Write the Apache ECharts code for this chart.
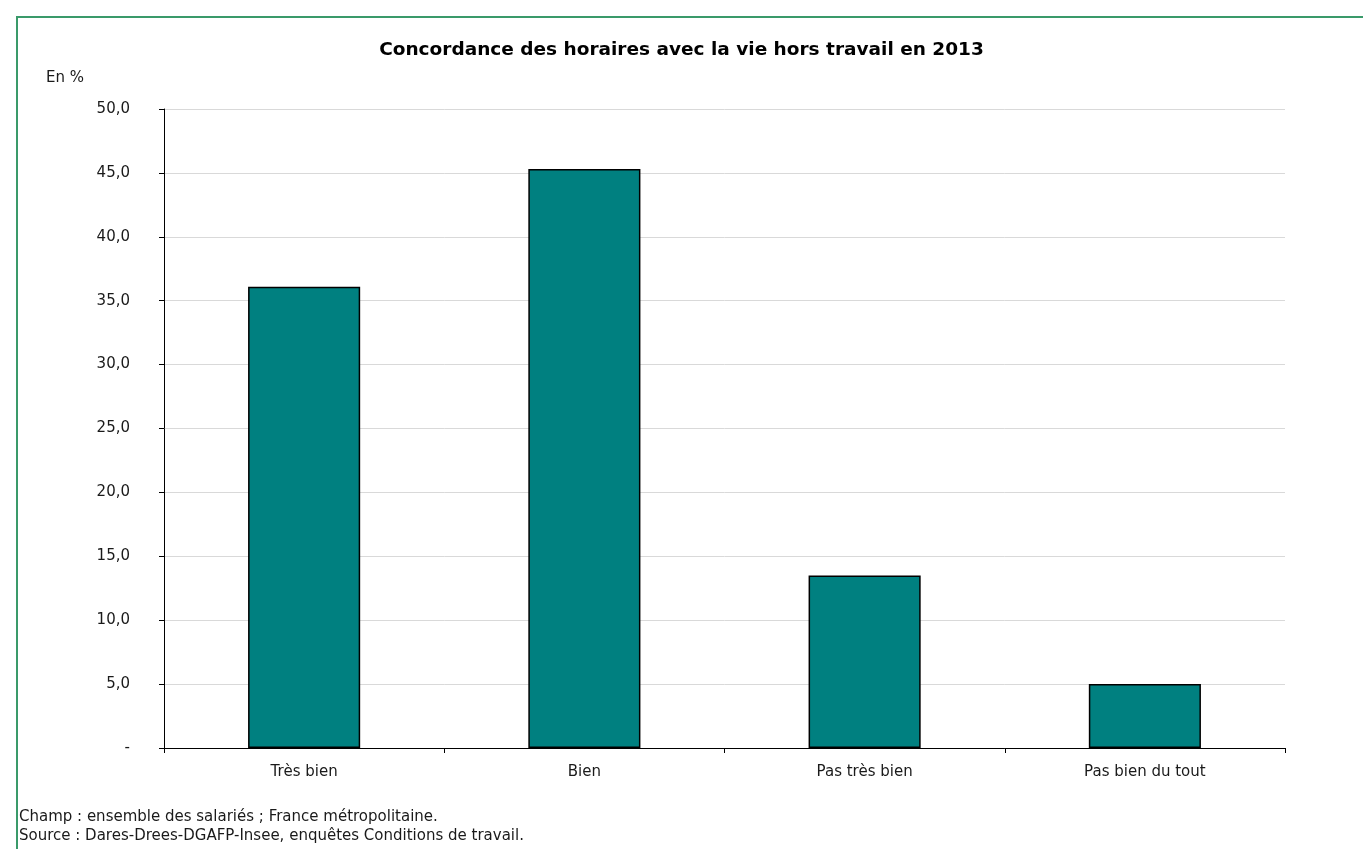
<!DOCTYPE html>
<html>
<head>
<meta charset="utf-8">
<script src="https://cdn.jsdelivr.net/npm/echarts@6/dist/echarts.min.js"></script>
<style>
html,body{margin:0;padding:0;background:#fff;}
#chart{width:1363px;height:849px;}
</style>
</head>
<body>
<div id="chart"></div>
<script>
const categories = ['Très bien', 'Bien', 'Pas très bien', 'Pas bien du tout'];
const values = [36.1, 45.3, 13.5, 5.0];
const titleText = 'Concordance des horaires avec la vie hors travail en 2013';
const unitText = 'En %';
const footerLines = [
  'Champ : ensemble des salariés ; France métropolitaine.',
  'Source : Dares-Drees-DGAFP-Insee, enquêtes Conditions de travail.'
];

const FONT = '"DejaVu Sans", Verdana, sans-serif';
const chart = echarts.init(document.getElementById('chart'), null, {renderer: 'canvas'});
chart.setOption({
  animation: false,
  backgroundColor: '#fff',
  title: {
    text: titleText,
    left: 'center',
    top: 41,
    padding: 0,
    textStyle: {fontFamily: FONT, fontSize: 18.5, fontWeight: 'bold', color: '#000'}
  },
  grid: {left: 164, right: 78, top: 109, bottom: 101, containLabel: false},
  xAxis: {
    type: 'category',
    data: categories,
    axisLine: {lineStyle: {color: '#000', width: 1}},
    axisTick: {show: true, length: 5, lineStyle: {color: '#000'}},
    axisLabel: {margin: 17, fontFamily: FONT, fontSize: 15, color: '#1a1a1a'}
  },
  yAxis: {
    type: 'value',
    min: 0, max: 50, interval: 5,
    axisLine: {show: true, lineStyle: {color: '#000', width: 1}},
    axisTick: {show: true, length: 5, lineStyle: {color: '#000'}},
    splitLine: {lineStyle: {color: '#d9d9d9', width: 1}},
    axisLabel: {
      margin: 34, fontFamily: FONT, fontSize: 15, color: '#1a1a1a',
      formatter: v => v === 0 ? '-' : v.toFixed(1).replace('.', ',')
    }
  },
  series: [{
    type: 'bar',
    data: values,
    barWidth: '40%',
    itemStyle: {color: '#008080', borderColor: '#000', borderWidth: 1.5}
  }],
  graphic: [
    {type: 'rect', shape: {x: 17, y: 17, width: 1400, height: 900},
     style: {fill: 'none', stroke: '#3a9a6a', lineWidth: 2}, silent: true},
    {type: 'text', x: 46, y: 78,
     style: {text: unitText, font: '15px ' + FONT, fill: '#1a1a1a', verticalAlign: 'middle'}},
    {type: 'text', x: 19, y: 817,
     style: {text: footerLines[0], font: '15px ' + FONT, fill: '#1a1a1a', verticalAlign: 'middle'}},
    {type: 'text', x: 19, y: 836,
     style: {text: footerLines[1], font: '15px ' + FONT, fill: '#1a1a1a', verticalAlign: 'middle'}}
  ]
});
</script>
</body>
</html>
